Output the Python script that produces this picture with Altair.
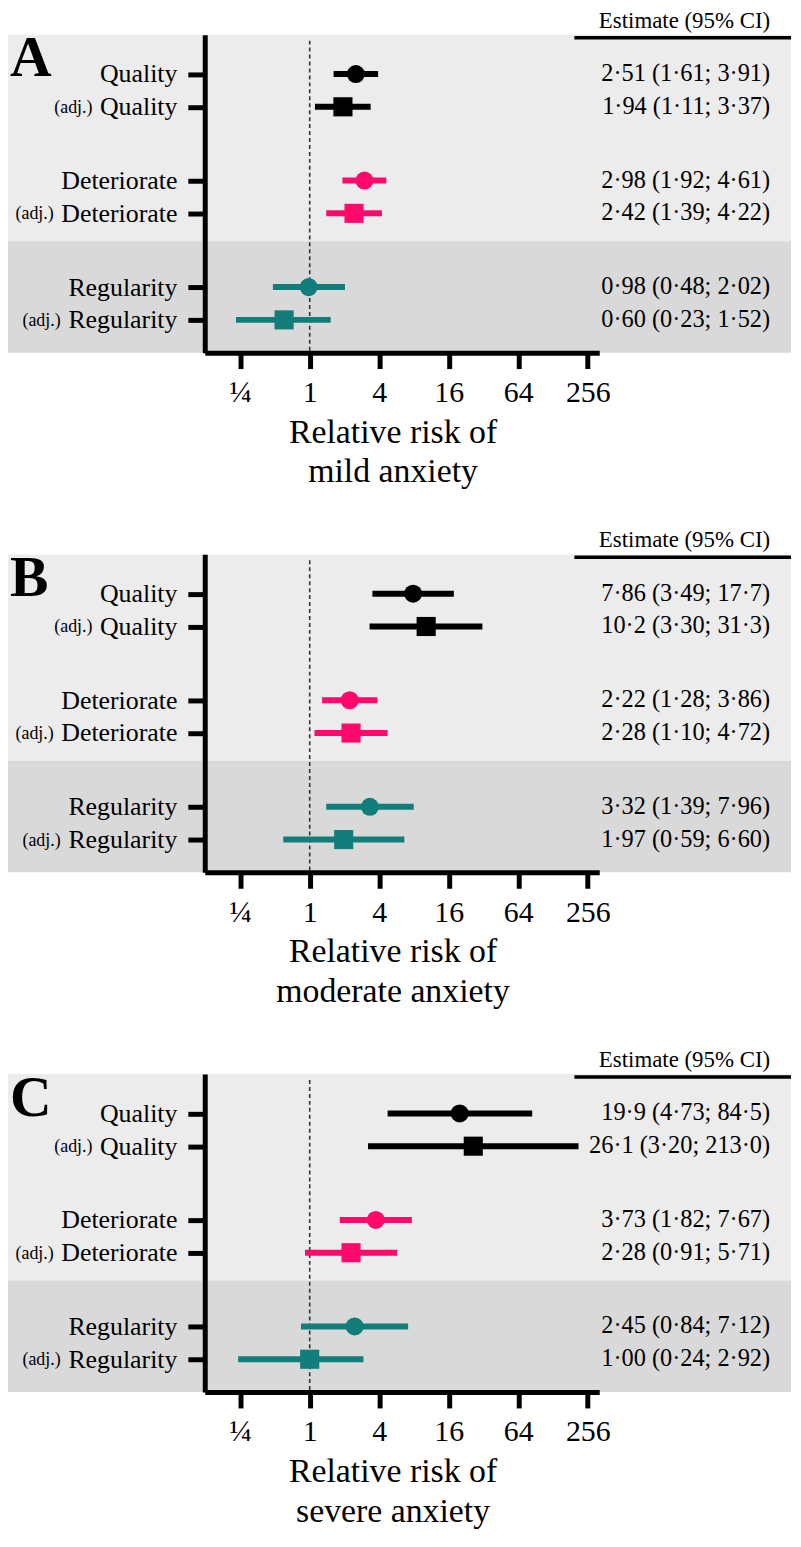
import altair as alt
import pandas as pd

# ---- data ----
groups = ["Quality", "Quality", "Deteriorate", "Deteriorate", "Regularity", "Regularity"]
kinds = ["raw", "adj", "raw", "adj", "raw", "adj"]
group_index = [0, 0, 1, 1, 2, 2]
sub_index = [0, 1, 0, 1, 0, 1]

est_A = ["2.51", "1.94", "2.98", "2.42", "0.98", "0.60"]
lo_A = ["1.61", "1.11", "1.92", "1.39", "0.48", "0.23"]
hi_A = ["3.91", "3.37", "4.61", "4.22", "2.02", "1.52"]

est_B = ["7.86", "10.2", "2.22", "2.28", "3.32", "1.97"]
lo_B = ["3.49", "3.30", "1.28", "1.10", "1.39", "0.59"]
hi_B = ["17.7", "31.3", "3.86", "4.72", "7.96", "6.60"]

est_C = ["19.9", "26.1", "3.73", "2.28", "2.45", "1.00"]
lo_C = ["4.73", "3.20", "1.82", "0.91", "0.84", "0.24"]
hi_C = ["84.5", "213.0", "7.67", "5.71", "7.12", "2.92"]

tick_values = [0.25, 1, 4, 16, 64, 256]
group_names = ["Quality", "Deteriorate", "Regularity"]
group_colors = ["#000000", "#FF0A6C", "#137D7B"]

# ---- layout / style ----
FONT = "Liberation Serif"
GROUP_STEP = 3.25
Y_DOMAIN = [-1.2, 8.5]
BAND_SPLIT = 5.1
W, H = 397, 320
LOG2_MIN, LOG2_MAX = -3.02, 8.33
PX_PER_LOG2 = W / (LOG2_MAX - LOG2_MIN)
LEFT_EXT, RIGHT_EXT = -198, 590
EST_X = 569
LABEL_WIDTH = {"Quality": 78, "Deteriorate": 117, "Regularity": 110}

xscale = alt.Scale(type="log", base=2, domain=[2 ** LOG2_MIN, 2 ** LOG2_MAX], nice=False)
yscale = alt.Scale(domain=Y_DOMAIN, reverse=True, zero=False, nice=False)

y_axis = alt.Axis(
    values=[g * GROUP_STEP + s for g in range(3) for s in range(2)],
    labelExpr="datum.value < 2 ? 'Quality' : (datum.value < 5 ? 'Deteriorate' : 'Regularity')",
    title=None, labelFont=FONT, labelFontSize=26, labelColor="black", labelPadding=11,
    labelBaseline="middle", labelOverlap=False,
    domainColor="black", domainWidth=5, tickColor="black", tickWidth=5, tickSize=17,
    zindex=1, grid=False,
)


def x_axis(title):
    return alt.Axis(
        values=tick_values,
        labelExpr="datum.value < 0.5 ? '\u00bc' : format(datum.value, 'd')",
        title=title, titleFont=FONT, titleFontSize=34, titleFontWeight="normal",
        titleColor="black", titleLineHeight=40, titlePadding=8, titleX=189,
        labelFont=FONT, labelFontSize=30, labelColor="black", labelPadding=9,
        labelFlush=False, labelOverlap=False, zindex=1,
        domainColor="black", domainWidth=5, tickColor="black", tickWidth=5, tickSize=16,
        grid=False,
    )


def px_to_x(px):
    """data value on the log2 x scale that sits px pixels from the plot's left edge"""
    return 2 ** (LOG2_MIN + px / PX_PER_LOG2)


def dot(s):
    return s.replace(".", "\u00b7")


def panel(letter, title, est, lo, hi):
    rows = []
    for i in range(6):
        rows.append(dict(
            group=groups[i], kind=kinds[i],
            pos=group_index[i] * GROUP_STEP + sub_index[i],
            est=float(est[i]), lo=float(lo[i]), hi=float(hi[i]),
            ci=f"{dot(est[i])} ({dot(lo[i])}; {dot(hi[i])})",
            adjx=px_to_x(-35 - LABEL_WIDTH[groups[i]]),
        ))
    df = pd.DataFrame(rows)
    xa = x_axis(title)
    color = alt.Color("group:N", scale=alt.Scale(domain=group_names, range=group_colors), legend=None)

    bands = pd.DataFrame({"y0": [Y_DOMAIN[0], BAND_SPLIT], "y1": [BAND_SPLIT, Y_DOMAIN[1]],
                          "shade": ["light", "dark"]})
    bg = alt.Chart(bands).mark_rect().encode(
        x=alt.value(LEFT_EXT), x2=alt.value(RIGHT_EXT),
        y=alt.Y("y0:Q", scale=yscale, axis=y_axis), y2="y1:Q",
        fill=alt.Fill("shade:N", scale=alt.Scale(domain=["light", "dark"], range=["#ECECEC", "#D9D9D9"]), legend=None),
    )
    ref = alt.Chart(pd.DataFrame({"v": [1]})).mark_rule(
        strokeDash=[4, 3], strokeWidth=1.6, color="#333333"
    ).encode(x=alt.X("v:Q", scale=xscale, axis=xa), y=alt.value(6), y2=alt.value(H))

    hdr_line = alt.Chart(pd.DataFrame({"a": [0]})).mark_rule(strokeWidth=3.5, color="black").encode(
        x=alt.value(372), x2=alt.value(RIGHT_EXT), y=alt.value(3))
    hdr_text = alt.Chart(pd.DataFrame({"t": ["Estimate (95% CI)"]})).mark_text(
        font=FONT, fontSize=23, align="right", baseline="alphabetic", color="black"
    ).encode(x=alt.value(EST_X), y=alt.value(-7), text="t:N")
    letter_text = alt.Chart(pd.DataFrame({"t": [letter]})).mark_text(
        font=FONT, fontSize=58, fontWeight="bold", align="left", baseline="alphabetic", color="black"
    ).encode(x=alt.value(LEFT_EXT + 2), y=alt.value(42), text="t:N")

    bars = alt.Chart(df).mark_rule(strokeWidth=6).encode(
        x=alt.X("lo:Q", scale=xscale, axis=xa), x2="hi:Q",
        y=alt.Y("pos:Q", scale=yscale, axis=y_axis), color=color,
    )
    pts = alt.Chart(df).mark_point(filled=True, opacity=1).encode(
        x=alt.X("est:Q", scale=xscale, axis=xa),
        y=alt.Y("pos:Q", scale=yscale, axis=y_axis),
        color=color,
        shape=alt.Shape("kind:N", scale=alt.Scale(domain=["raw", "adj"], range=["circle", "square"]), legend=None),
        size=alt.Size("kind:N", scale=alt.Scale(domain=["raw", "adj"], range=[330, 370]), legend=None),
    )
    ci = alt.Chart(df).mark_text(font=FONT, fontSize=24.5, align="right", baseline="middle", color="black").encode(
        x=alt.value(EST_X), y=alt.Y("pos:Q", scale=yscale, axis=y_axis), text="ci:N")
    adj = alt.Chart(df).transform_filter("datum.kind == 'adj'").mark_text(
        font=FONT, fontSize=18, align="right", baseline="middle", color="black", dy=1
    ).encode(x=alt.X("adjx:Q", scale=xscale, axis=xa), y=alt.Y("pos:Q", scale=yscale, axis=y_axis),
             text=alt.value("(adj.)"))

    return alt.layer(bg, ref, hdr_line, hdr_text, letter_text, bars, pts, ci, adj).properties(width=W, height=H)


pA = panel("A", ["Relative risk of", "mild anxiety"], est_A, lo_A, hi_A)
pB = panel("B", ["Relative risk of", "moderate anxiety"], est_B, lo_B, hi_B)
pC = panel("C", ["Relative risk of", "severe anxiety"], est_C, lo_C, hi_C)

chart = alt.vconcat(pA, pB, pC, spacing=203, bounds="flush").properties(
    padding={"left": 0, "top": -3, "right": 0, "bottom": 0}
).configure_view(stroke=None)

chart.save("out.html", embed_options={"renderer": "svg", "actions": False})
